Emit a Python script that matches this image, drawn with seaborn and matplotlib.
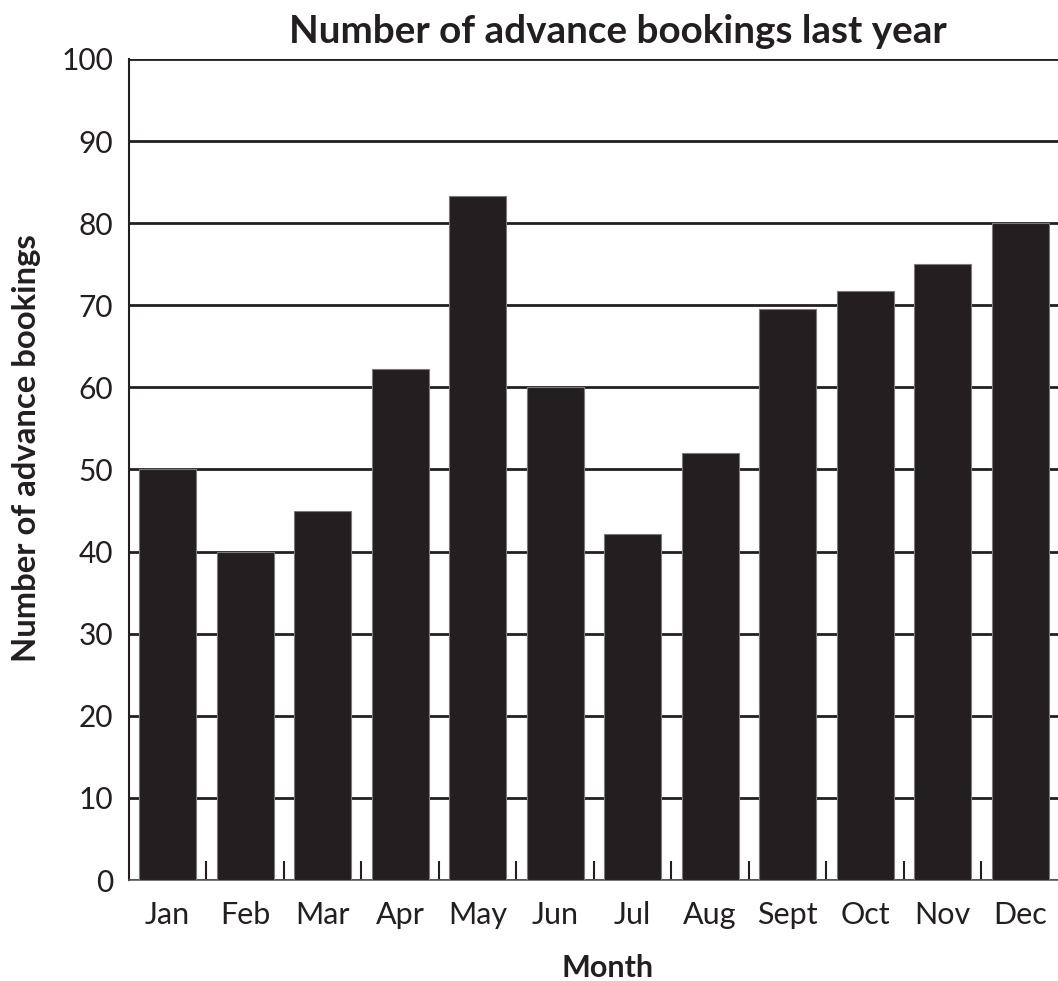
import matplotlib
matplotlib.use("Agg")
import matplotlib.pyplot as plt
import seaborn as sns
import pandas as pd
from matplotlib.ticker import FixedLocator

months = ["Jan", "Feb", "Mar", "Apr", "May", "Jun", "Jul", "Aug", "Sept", "Oct", "Nov", "Dec"]
bookings = [50, 40, 45, 62.3, 83.3, 60, 42.2, 52, 69.6, 71.8, 75, 80]
yticks = list(range(0, 101, 10))

title = "Number of advance bookings last year"
xlabel = "Month"
ylabel = "Number of advance bookings"

sns.set_theme(style="white")
plt.rcParams['font.family'] = ['Lato', 'DejaVu Sans']

W, H = 1058, 981
dark = "#231f20"
fig = plt.figure(figsize=(W / 100, H / 100), dpi=100)
fig.patch.set_facecolor("white")
ax = fig.add_axes([128.8 / W, 1 - 880 / H, 930 / W, (880 - 59) / H])

df = pd.DataFrame({"month": months, "bookings": bookings})
sns.barplot(data=df, x="month", y="bookings", color=dark, saturation=1,
            width=0.735, edgecolor="#7a7a7a", linewidth=0.8, ax=ax, zorder=3)

ax.set_xlim(-0.5, len(months) - 0.5)
ax.set_ylim(0, 100)
ax.set_yticks(yticks)
ax.set_yticklabels([str(v) for v in yticks])
ax.yaxis.grid(True, color=dark, linewidth=2.0)
ax.xaxis.grid(False)
ax.set_axisbelow(True)

ax.xaxis.set_minor_locator(FixedLocator([i + 0.5 for i in range(len(months) - 1)]))
ax.tick_params(axis="x", which="minor", direction="in", length=13.5, width=1.5,
               color=dark, bottom=True)
ax.tick_params(axis="x", which="major", length=0, pad=15, labelsize=22, labelcolor=dark)
ax.tick_params(axis="y", which="major", length=0, pad=11.4, labelsize=21.5, labelcolor=dark)

for s in ["top", "right"]:
    ax.spines[s].set_visible(False)
ax.spines["left"].set_color(dark)
ax.spines["left"].set_linewidth(1.5)
ax.spines["bottom"].set_color("#5a5a5a")
ax.spines["bottom"].set_linewidth(1.2)

ax.set_xlabel("")
ax.set_ylabel("")

fig.text(618 / W, 1 - 43 / H, title, ha="center", va="baseline",
         fontsize=27.8, fontweight="bold", color=dark)
fig.text(608 / W, 1 - 977 / H, xlabel, ha="center", va="baseline",
         fontsize=22, fontweight="bold", color=dark)
fig.text(27 / W, 1 - 448 / H, ylabel, ha="center", va="center", rotation=90,
         fontsize=23.7, fontweight="bold", color=dark)

fig.savefig("out.png", dpi=100, facecolor="white")
